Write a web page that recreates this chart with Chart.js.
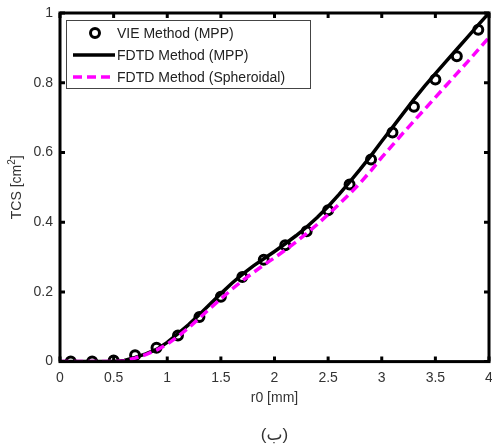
<!DOCTYPE html>
<html>
<head>
<meta charset="utf-8">
<script src="https://cdn.jsdelivr.net/npm/chart.js@4"></script>
<style>
  html, body { margin: 0; padding: 0; background: #fff; }
  #wrap { width: 492px; height: 448px; }
  canvas { display: block; }
</style>
</head>
<body>
<div id="wrap"><canvas id="tcsChart" width="492" height="448"></canvas></div>
<script>
(function(){
    "use strict";

    // r0 [mm] where VIE markers sit
    const rVie = [0.1, 0.3, 0.5, 0.7, 0.9, 1.1, 1.3, 1.5, 1.7, 1.9, 2.1, 2.3, 2.5, 2.7, 2.9, 3.1, 3.3, 3.5, 3.7, 3.9];
    const tcsVie = [0, 0, 0.003, 0.018, 0.04, 0.075, 0.128, 0.186, 0.243, 0.292, 0.334, 0.374, 0.434, 0.508, 0.58, 0.657, 0.731, 0.809, 0.876, 0.952];

    // FDTD curves sampled every 0.1 mm
    const rFdtd = [0, 0.1, 0.2, 0.3, 0.4, 0.5, 0.6, 0.7, 0.8, 0.9, 1.0, 1.1, 1.2, 1.3, 1.4, 1.5, 1.6, 1.7, 1.8, 1.9, 2.0,
                   2.1, 2.2, 2.3, 2.4, 2.5, 2.6, 2.7, 2.8, 2.9, 3.0, 3.1, 3.2, 3.3, 3.4, 3.5, 3.6, 3.7, 3.8, 3.9, 4.0];
    const tcsMpp = [0, 0, 0, 0, 0, 0, 0.003, 0.012, 0.022, 0.035, 0.055, 0.08, 0.106, 0.135, 0.165, 0.195, 0.224, 0.25, 0.274, 0.295, 0.316,
                    0.338, 0.361, 0.386, 0.414, 0.445, 0.479, 0.515, 0.552, 0.591, 0.632, 0.672, 0.712, 0.752, 0.79, 0.826, 0.861, 0.896, 0.931, 0.966, 1.0];
    const tcsSph = [0, 0, 0, 0, 0, 0, 0.002, 0.01, 0.02, 0.033, 0.05, 0.072, 0.097, 0.125, 0.153, 0.18, 0.207, 0.232, 0.255, 0.277, 0.298,
                    0.32, 0.343, 0.368, 0.394, 0.422, 0.451, 0.481, 0.513, 0.548, 0.586, 0.621, 0.656, 0.69, 0.724, 0.758, 0.792, 0.826, 0.86, 0.895, 0.93];

    const xTicks = [0, 0.5, 1, 1.5, 2, 2.5, 3, 3.5, 4];
    const yTicks = [0, 0.2, 0.4, 0.6, 0.8, 1];
    const seriesNames = ['VIE Method (MPP)', 'FDTD Method (MPP)', 'FDTD Method (Spheroidal)'];

    const FONT = 'Arial, "Liberation Sans", "DejaVu Sans", sans-serif';
    const TXT = '#333';
    const MAG = '#ff00ff';

    const pts = (xs, ys) => xs.map((x, i) => ({ x: x, y: ys[i] }));
    const fmt = v => String(+(+v).toFixed(1));

    // box frame + inward ticks on all four sides, matlab style
    const framePlugin = {
        id: 'frame',
        afterDatasetsDraw(chart) {
            const { ctx, chartArea: a, scales: { x, y } } = chart;
            const tl = 5;
            ctx.save();
            ctx.strokeStyle = '#000';
            ctx.lineWidth = 3;
            ctx.beginPath();
            xTicks.forEach(v => {
                const px = x.getPixelForValue(v);
                ctx.moveTo(px, a.bottom); ctx.lineTo(px, a.bottom - tl);
                ctx.moveTo(px, a.top); ctx.lineTo(px, a.top + tl);
            });
            yTicks.forEach(v => {
                const py = y.getPixelForValue(v);
                ctx.moveTo(a.left, py); ctx.lineTo(a.left + tl, py);
                ctx.moveTo(a.right, py); ctx.lineTo(a.right - tl, py);
            });
            ctx.stroke();
            ctx.lineJoin = 'miter';
            ctx.strokeRect(a.left, a.top, a.right - a.left, a.bottom - a.top);
            ctx.restore();
        }
    };

    // y title with a real superscript 2
    const yTitlePlugin = {
        id: 'yTitle',
        afterDraw(chart) {
            const { ctx, chartArea: a } = chart;
            const base = '14px ' + FONT, sup = '10px ' + FONT;
            ctx.save();
            ctx.font = base;
            const w1 = ctx.measureText('TCS [cm').width, w3 = ctx.measureText(']').width;
            ctx.font = sup;
            const w2 = ctx.measureText('2').width;
            const total = w1 + w2 + w3;
            ctx.translate(17, (a.top + a.bottom) / 2);
            ctx.rotate(-Math.PI / 2);
            ctx.fillStyle = TXT;
            ctx.textBaseline = 'middle';
            ctx.textAlign = 'left';
            let x0 = -total / 2;
            ctx.font = base; ctx.fillText('TCS [cm', x0, 0);
            ctx.font = sup; ctx.fillText('2', x0 + w1, -5);
            ctx.font = base; ctx.fillText(']', x0 + w1 + w2, 0);
            ctx.restore();
        }
    };

    const legendPlugin = {
        id: 'boxLegend',
        afterDraw(chart) {
            const { ctx } = chart;
            const bx = 66, by = 20, bw = 244, bh = 68;
            ctx.save();
            ctx.fillStyle = '#fff';
            ctx.fillRect(bx, by, bw, bh);
            ctx.strokeStyle = '#444';
            ctx.lineWidth = 1;
            ctx.strokeRect(bx + 0.5, by + 0.5, bw, bh);
            const rows = [33, 55, 77];
            // marker
            ctx.strokeStyle = '#000';
            ctx.lineWidth = 3;
            ctx.beginPath();
            ctx.arc(95, rows[0], 4.5, 0, Math.PI * 2);
            ctx.stroke();
            // solid line
            ctx.lineWidth = 3.5;
            ctx.beginPath();
            ctx.moveTo(73, rows[1]); ctx.lineTo(115, rows[1]);
            ctx.stroke();
            // dashed line
            ctx.strokeStyle = MAG;
            ctx.setLineDash([9, 5]);
            ctx.beginPath();
            ctx.moveTo(73, rows[2]); ctx.lineTo(115, rows[2]);
            ctx.stroke();
            ctx.setLineDash([]);
            ctx.fillStyle = '#222';
            ctx.font = '14px ' + FONT;
            ctx.textBaseline = 'middle';
            ctx.textAlign = 'left';
            seriesNames.forEach((s, i) => ctx.fillText(s, 117, rows[i] + 1));
            ctx.restore();
        }
    };

    // keep the plot box where the reference has it, no auto label padding
    const noPad = s => { s.paddingLeft = 0; s.paddingRight = 0; s.paddingTop = 0; s.paddingBottom = 0; };

    const chart = new Chart(document.getElementById('tcsChart'), {
        type: 'scatter',
        data: {
            datasets: [
                {
                    label: seriesNames[0], data: pts(rVie, tcsVie), order: 3,
                    showLine: false, pointStyle: 'circle', pointRadius: 4.5,
                    pointBorderWidth: 3, pointBorderColor: '#000', pointBackgroundColor: 'rgba(0,0,0,0)'
                },
                {
                    label: seriesNames[1], data: pts(rFdtd, tcsMpp), order: 2,
                    showLine: true, borderColor: '#000', borderWidth: 3.5, pointRadius: 0, tension: 0
                },
                {
                    label: seriesNames[2], data: pts(rFdtd, tcsSph), order: 1,
                    showLine: true, borderColor: MAG, borderWidth: 3.5, borderDash: [9, 5], pointRadius: 0, tension: 0
                }
            ]
        },
        options: {
            responsive: false,
            animation: false,
            devicePixelRatio: 1,
            layout: { autoPadding: false, padding: { top: 13, right: 3, bottom: 0, left: 0 } },
            plugins: {
                legend: { display: false },
                tooltip: { enabled: false },
                title: {
                    display: true, text: '(ب)', position: 'bottom', fullSize: false,
                    color: TXT, font: { family: FONT, size: 17, weight: 'normal' },
                    padding: { top: 16, bottom: 2 }
                }
            },
            scales: {
                x: {
                    type: 'linear', min: 0, max: 4,
                    afterFit: s => { s.height = 48; noPad(s); },
                    afterBuildTicks: s => { s.ticks = xTicks.map(v => ({ value: v })); },
                    grid: { display: false, drawTicks: false },
                    border: { display: false },
                    ticks: { color: TXT, padding: 8, font: { family: FONT, size: 14 }, callback: fmt },
                    title: { display: true, text: 'r0 [mm]', color: TXT, font: { family: FONT, size: 14 }, padding: { top: 0, bottom: 3 } }
                },
                y: {
                    type: 'linear', min: 0, max: 1,
                    afterFit: s => { s.width = 60; noPad(s); },
                    afterBuildTicks: s => { s.ticks = yTicks.map(v => ({ value: v })); },
                    grid: { display: false, drawTicks: false },
                    border: { display: false },
                    ticks: { color: TXT, padding: 7, font: { family: FONT, size: 14 }, callback: fmt },
                    title: { display: false }
                }
            }
        },
        plugins: [framePlugin, yTitlePlugin, legendPlugin]
    });
})();
</script>
</body>
</html>
